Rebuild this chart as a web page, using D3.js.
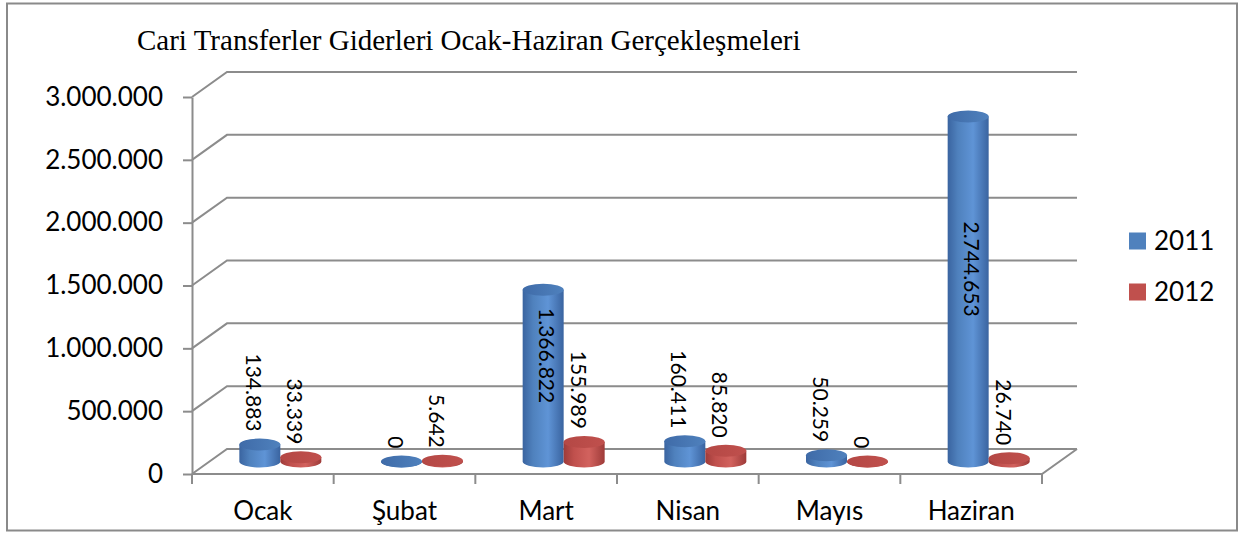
<!DOCTYPE html>
<html>
<head>
<meta charset="utf-8">
<script src="https://cdn.jsdelivr.net/npm/d3@7"></script>
<style>
  body { margin: 0; background: #fff; }
  svg { display: block; }
  .axis text { font-family: Lato, "Open Sans", sans-serif; fill: #000; }
</style>
</head>
<body>
<div id="chart"></div>
<script>
const months = ["Ocak", "Şubat", "Mart", "Nisan", "Mayıs", "Haziran"];
const seriesNames = ["2011", "2012"];
const values2011 = [134883, 0, 1366822, 160411, 50259, 2744653];
const values2012 = [33339, 5642, 155989, 85820, 0, 26740];
const yTicks = [0, 500000, 1000000, 1500000, 2000000, 2500000, 3000000];
const chartTitle = "Cari Transferler Giderleri Ocak-Haziran Gerçekleşmeleri";

const width = 1242;
const height = 533;
// front face of the plot box, and the 3d depth offset
const plot = { left: 192, right: 1042, top: 97, bottom: 474 };
const depth = { dx: 35, dy: -25 };
const mid = { dx: depth.dx / 2, dy: depth.dy / 2 };
const gridColor = "#8c8c8c";

const colors = {
  "2011": { base: "#4f81bd", dark: "#3a64a0", light: "#5f94d6", top: "#3f6ba8" },
  "2012": { base: "#c0504d", dark: "#9e3b39", light: "#d2625e", top: "#b44845" },
};

const fmt = d3.formatLocale({
  decimal: ",",
  thousands: ".",
  grouping: [3],
  currency: ["", ""],
}).format(",d");

const svg = d3
  .select("#chart")
  .append("svg")
  .attr("width", width)
  .attr("height", height)
  .attr("viewBox", `0 0 ${width} ${height}`);

// gradients for cylinder bodies
const defs = svg.append("defs");
seriesNames.forEach((s) => {
  const c = colors[s];
  const gr = defs
    .append("linearGradient")
    .attr("id", `body${s}`)
    .attr("x1", "0").attr("x2", "1").attr("y1", "0").attr("y2", "0");
  gr.append("stop").attr("offset", "0%").attr("stop-color", c.dark);
  gr.append("stop").attr("offset", "25%").attr("stop-color", c.base);
  gr.append("stop").attr("offset", "62%").attr("stop-color", c.light);
  gr.append("stop").attr("offset", "100%").attr("stop-color", c.dark);
  const tg = defs
    .append("linearGradient")
    .attr("id", `top${s}`)
    .attr("x1", "0").attr("x2", "1").attr("y1", "0").attr("y2", "0");
  tg.append("stop").attr("offset", "0%").attr("stop-color", c.top);
  tg.append("stop").attr("offset", "100%").attr("stop-color", c.base);
});

// outer border
svg.append("rect")
  .attr("x", 7).attr("y", 3.5)
  .attr("width", 1230).attr("height", 527)
  .attr("fill", "#fff")
  .attr("stroke", "#8a8a8a")
  .attr("stroke-width", 2);

svg.append("text")
  .attr("x", 137)
  .attr("y", 50)
  .attr("font-family", "Liberation Serif, 'Times New Roman', serif")
  .attr("font-size", 29)
  .attr("fill", "#000")
  .text(chartTitle);

const x = d3.scaleBand().domain(months).range([plot.left, plot.right]).padding(0);
const xs = d3.scaleBand().domain(seriesNames).range([-41, 41]).padding(0);
const y = d3.scaleLinear().domain([0, 3000000]).range([plot.bottom, plot.top]);

// back wall gridlines + left wall diagonals
const grid = svg.append("g").attr("stroke", gridColor).attr("stroke-width", 2).attr("fill", "none");
yTicks.forEach((t) => {
  grid.append("path").attr(
    "d",
    `M${plot.left},${y(t)} L${plot.left + depth.dx},${y(t) + depth.dy} L${plot.right + depth.dx},${y(t) + depth.dy}`,
  );
});
// floor front edge and right edge
grid.append("path").attr(
  "d",
  `M${plot.left},${plot.bottom} L${plot.right},${plot.bottom} L${plot.right + depth.dx},${plot.bottom + depth.dy}`,
);
// category boundary ticks
const bounds = months.map((m) => x(m)).concat([plot.right]);
bounds.forEach((bx) => {
  grid.append("line")
    .attr("x1", bx).attr("x2", bx)
    .attr("y1", plot.bottom).attr("y2", plot.bottom + 10);
});

// y axis
const yAxis = svg
  .append("g")
  .attr("class", "axis")
  .attr("transform", `translate(${plot.left},0)`)
  .call(d3.axisLeft(y).tickValues(yTicks).tickFormat(fmt).tickSize(9).tickSizeOuter(0).tickPadding(20));
yAxis.select(".domain").attr("stroke", gridColor).attr("stroke-width", 2);
yAxis.selectAll(".tick line").attr("stroke", gridColor).attr("stroke-width", 2);
yAxis.selectAll("text").attr("font-size", 26);

// x axis labels
const xAxis = svg
  .append("g")
  .attr("class", "axis")
  .attr("transform", `translate(0,${plot.bottom})`)
  .call(d3.axisBottom(x).tickSize(0).tickPadding(28));
xAxis.select(".domain").remove();
xAxis.selectAll("text").attr("font-size", 26);

// cylinders at mid depth
const rx = 20.5;
const ry = 6;
const baseY = y(0) + mid.dy;
const bars = [];
months.forEach((m, i) => {
  [values2011[i], values2012[i]].forEach((v, j) => {
    const s = seriesNames[j];
    bars.push({ month: m, series: s, value: v, cx: x(m) + x.bandwidth() / 2 + mid.dx + xs(s) + xs.bandwidth() / 2, top: y(v) + mid.dy });
  });
});

const cyl = svg.append("g");
bars.forEach((d) => {
  const g = cyl.append("g");
  g.append("path")
    .attr(
      "d",
      `M${d.cx - rx},${d.top} L${d.cx - rx},${baseY} A${rx},${ry} 0 0 0 ${d.cx + rx},${baseY} L${d.cx + rx},${d.top} Z`,
    )
    .attr("fill", `url(#body${d.series})`);
  g.append("ellipse")
    .attr("cx", d.cx)
    .attr("cy", d.top)
    .attr("rx", rx)
    .attr("ry", ry)
    .attr("fill", `url(#top${d.series})`);
});

// data labels
const labels = svg.append("g")
  .attr("font-family", "Lato, 'Open Sans', sans-serif")
  .attr("font-size", 21)
  .attr("fill", "#000");
bars.forEach((d) => {
  const h = baseY - d.top;
  const inside = h > 150;
  const lx = inside ? d.cx + 3 : d.cx - 6;
  const ly = inside ? (d.top + baseY) / 2 - 20 : d.top - 13;
  labels.append("text")
    .attr("transform", `translate(${lx},${ly}) rotate(90)`)
    .attr("text-anchor", inside ? "middle" : "end")
    .attr("dy", "0.35em")
    .text(fmt(d.value));
});

// legend
const legend = svg.append("g")
  .attr("font-family", "Lato, 'Open Sans', sans-serif")
  .attr("font-size", 26);
seriesNames.forEach((s, i) => {
  const ly = 241 + i * 51;
  legend.append("rect")
    .attr("x", 1129).attr("y", ly - 8.5)
    .attr("width", 17).attr("height", 17)
    .attr("fill", colors[s].base);
  legend.append("text")
    .attr("x", 1154).attr("y", ly)
    .attr("dy", "0.36em")
    .text(s);
});
</script>
</body>
</html>
